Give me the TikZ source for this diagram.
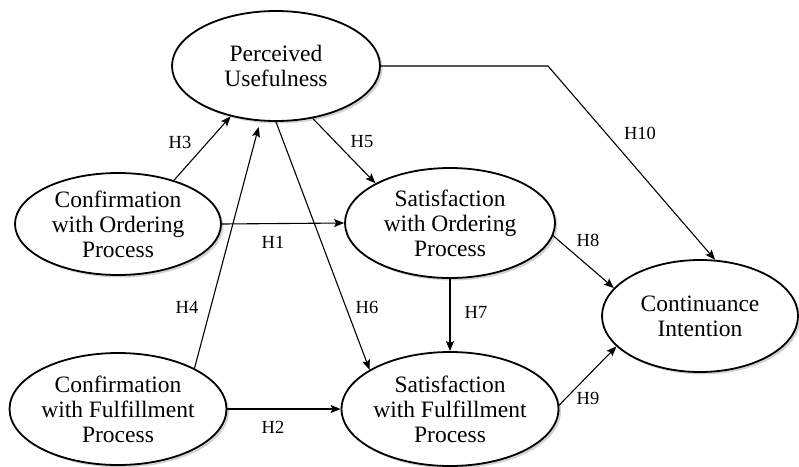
\documentclass[tikz,border=0pt]{standalone}
\usepackage{fontspec}
\setmainfont{Liberation Serif}
\usetikzlibrary{arrows.meta,shapes.geometric,shadows}

\begin{document}
\begin{tikzpicture}[->,>={Stealth[length=10pt,width=8pt,inset=2pt]},shorten >=0pt,x=1pt,y=-1pt,line width=1.1pt]
\tikzstyle{construct}=[ellipse,draw,line width=1.8pt,fill=white,inner sep=0pt,align=center,
  font=\fontsize{23.5}{25}\selectfont,
  drop shadow={shadow xshift=2.5pt,shadow yshift=-2.5pt,opacity=.35}]
  	\tikzstyle{hyp}=[font=\fontsize{18.5}{20}\selectfont,inner sep=0pt]
\useasboundingbox (0,0) rectangle (799,466);

\node [construct,minimum width=208pt,minimum height=110pt] (pu) at (276,66) {Perceived\\Usefulness};
\node [construct,minimum width=206pt,minimum height=102pt] (cop) at (118,224) {Confirmation\\with Ordering\\Process};
\node [construct,minimum width=206pt,minimum height=112pt] (cfp) at (118,409) {Confirmation\\with Fulfillment\\Process};
\node [construct,minimum width=210pt,minimum height=110pt] (sop) at (450,223) {Satisfaction\\with Ordering\\Process};
\node [construct,minimum width=210pt,minimum height=114pt] (sfp) at (450,409) {Satisfaction\\with Fulfillment\\Process};
\node [construct,minimum width=196pt,minimum height=112pt] (ci) at (700,316) {Continuance\\Intention};

\path (cop.38) edge (pu.228)
	   (cfp.28) edge [shorten >=6pt] (pu.254)
	   (pu.270) edge (sfp.154)
	   (pu.305) edge (sop.152)
	   (cop.east) edge (sop.west)
	   (cfp.east) edge (sfp.west)
	   (sop.south) edge (sfp.north)
	   (sop.353) edge (ci.162)
	   (sfp.2) edge (ci.200);

\coordinate (bend) at (548,66);
\draw (pu.east) -- (bend) -- (ci.75);

\node [hyp] (h3) at (180,142) {H3};
\node [hyp] (h5) at (362,142) {H5};
\node [hyp] (h10) at (640,133) {H10};
\node [hyp] (h1) at (273,242) {H1};
\node [hyp] (h4) at (187,307) {H4};
\node [hyp] (h6) at (367,307) {H6};
\node [hyp] (h2) at (273,427) {H2};
\node [hyp] (h8) at (588,240) {H8};
\node [hyp] (h7) at (476,312) {H7};
\node [hyp] (h9) at (588,398) {H9};
\end{tikzpicture}
\end{document}
